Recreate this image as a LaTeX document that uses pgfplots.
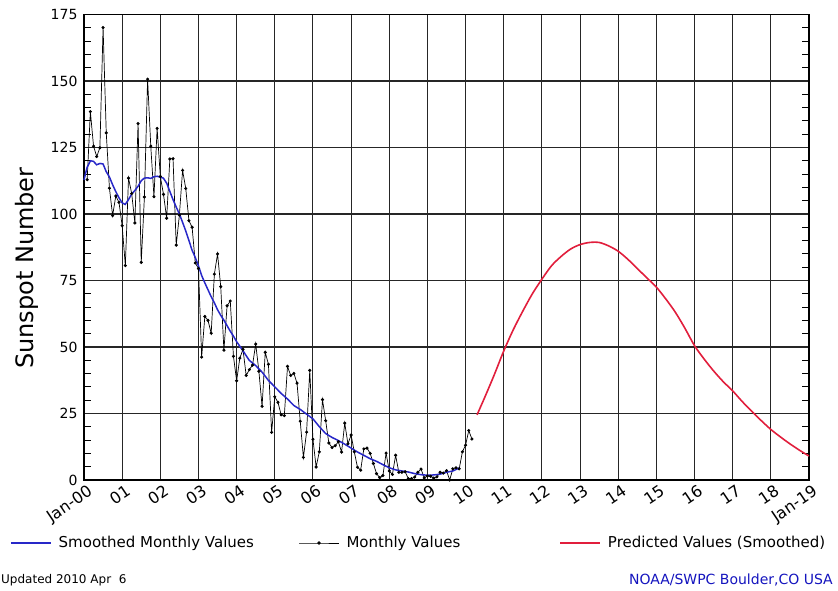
\documentclass[border=0pt]{standalone}
\usepackage{pgfplots}
\usepackage{pgfplotstable}
\pgfplotsset{compat=1.18}
\usepackage{fontspec}
\setmainfont{DejaVu Sans}
\definecolor{smblue}{RGB}{40,40,200}
\definecolor{prred}{RGB}{225,30,60}
\definecolor{noaablue}{RGB}{20,20,190}
\tikzset{xlab/.style={rotate=34, anchor=north east, inner sep=1pt, yshift=-4pt, xshift=1pt, font=\fontsize{16}{18}\selectfont}}

% Monthly values, m = months after Jan 2000
\pgfplotstableread{
m v
1 112.9
2 138.5
3 125.5
4 121.6
5 124.9
6 170.1
7 130.5
8 109.7
9 99.4
10 106.8
11 104.4
12 95.6
13 80.6
14 113.5
15 107.7
16 96.6
17 134.0
18 81.8
19 106.4
20 150.7
21 125.5
22 106.5
23 132.2
24 114.1
25 107.4
26 98.4
27 120.7
28 120.8
29 88.3
30 99.6
31 116.4
32 109.6
33 97.5
34 95.0
35 81.6
36 79.5
37 46.2
38 61.5
39 60.0
40 55.2
41 77.4
42 85.0
43 72.7
44 48.8
45 65.5
46 67.3
47 46.5
48 37.3
49 45.8
50 49.1
51 39.3
52 41.5
53 43.2
54 51.1
55 40.9
56 27.7
57 48.0
58 43.5
59 17.9
60 31.3
61 29.2
62 24.5
63 24.2
64 42.7
65 39.3
66 40.1
67 36.4
68 22.1
69 8.5
70 18.0
71 41.2
72 15.3
73 4.9
74 10.6
75 30.2
76 22.3
77 13.9
78 12.2
79 12.9
80 14.4
81 10.5
82 21.4
83 13.6
84 16.9
85 10.6
86 4.8
87 3.7
88 11.7
89 12.0
90 10.0
91 6.2
92 2.4
93 0.9
94 1.7
95 10.1
96 3.4
97 2.1
98 9.3
99 2.9
100 2.9
101 3.1
102 0.5
103 0.5
104 1.1
105 2.9
106 4.1
107 0.8
108 1.5
109 1.4
110 0.7
111 1.2
112 2.9
113 2.6
114 3.5
115 0.0
116 4.2
117 4.6
118 4.2
119 10.6
120 13.1
121 18.6
122 15.4
}\monthly

% Smoothed values, t = years after Jan 2000
\pgfplotstableread{
t v
0.00 112.8
0.08 117.5
0.17 120.0
0.25 119.8
0.33 118.5
0.42 119.0
0.50 118.8
0.58 116.0
0.67 113.8
0.75 111.0
0.83 108.5
0.92 106.0
1.00 104.2
1.08 103.6
1.17 105.5
1.25 107.5
1.33 108.8
1.42 110.5
1.50 112.5
1.58 113.5
1.67 113.6
1.75 113.4
1.83 114.0
1.92 114.2
2.00 113.8
2.08 113.5
2.17 111.5
2.25 108.5
2.33 105.5
2.42 102.5
2.50 100.0
2.58 97.0
2.67 93.5
2.75 90.0
2.83 86.5
2.92 83.5
3.00 80.5
3.08 77.0
3.17 74.0
3.25 71.5
3.33 69.0
3.42 66.5
3.50 64.0
3.58 62.0
3.67 60.0
3.75 58.0
3.83 56.0
3.92 54.0
4.00 52.0
4.17 48.5
4.33 45.0
4.50 43.0
4.67 40.5
4.83 37.5
5.00 35.0
5.17 32.5
5.33 30.5
5.50 28.0
5.67 26.5
5.83 24.8
6.00 23.0
6.17 20.0
6.33 17.5
6.50 16.0
6.67 14.8
6.83 13.5
7.00 12.0
7.17 10.5
7.33 9.3
7.50 8.0
7.67 7.0
7.83 5.8
8.00 4.6
8.17 3.8
8.33 3.4
8.50 3.0
8.67 2.4
8.83 2.0
9.00 1.8
9.17 1.9
9.33 2.2
9.50 2.9
9.67 3.4
9.83 4.5
}\smoothed

% Predicted values, t = years after Jan 2000
\pgfplotstableread{
t v
10.30 24.5
10.50 31.0
10.75 39.5
11.00 48.5
11.25 56.5
11.50 63.5
11.75 70.0
12.00 75.5
12.25 80.5
12.50 84.0
12.75 86.8
13.00 88.5
13.25 89.3
13.50 89.3
13.75 88.0
14.00 86.0
14.25 83.0
14.50 79.5
14.75 76.0
15.00 72.5
15.25 68.0
15.50 63.0
15.75 57.0
16.00 50.5
16.25 45.5
16.50 41.0
16.75 37.0
17.00 33.5
17.25 29.5
17.50 25.8
17.75 22.3
18.00 19.0
18.25 16.2
18.50 13.6
18.75 11.2
19.00 9.0
}\predicted

\begin{document}
\begin{tikzpicture}
\useasboundingbox (0pt,0pt) rectangle (838pt,590pt);
\begin{axis}[
  at={(84pt,110pt)}, anchor=south west,
  width=725pt, height=465.5pt, scale only axis,
  clip=false,
  xmin=0, xmax=19, ymin=0, ymax=175,
  xtick={0,1,...,19},
  xticklabels={},
  ytick={0,25,50,75,100,125,150,175},
  minor y tick num=4,
  grid=major,
  major grid style={draw=black!85, line width=1.1pt},
  axis line style={black, line width=1.3pt},
  tick align=inside,
  major tick length=0pt,
  minor tick length=7pt,
  minor tick style={black, line width=1pt},
  /pgf/number format/assume math mode=true,
  tick label style={font=\fontsize{14}{16}\selectfont},
  yticklabel style={xshift=-3pt},
  ylabel={Sunspot Number},
  ylabel style={at={(axis description cs:-0.0786,0.455)}, anchor=center, font=\fontsize{24}{28}\selectfont},
  legend columns=3,
  legend cell align=left,
  legend image code/.code={\draw[mark repeat=2,mark phase=2,#1] plot coordinates {(0pt,0pt) (20pt,0pt) (40pt,0pt)};},
  legend style={at={(axis description cs:-0.10207,-0.13534)}, anchor=west, draw=none, fill=none,
    inner sep=0pt, nodes={inner sep=0pt}, font=\fontsize{15}{18}\selectfont,
    /tikz/every odd column/.style={column sep=7pt}},
]
\addlegendimage{smblue, line width=1.5pt}
\addlegendentry{\makebox[240pt][l]{Smoothed Monthly Values}}
\addlegendimage{black, line width=0.8pt, mark=*, mark size=1.3pt}
\addlegendentry{\makebox[213pt][l]{Monthly Values}}
\addlegendimage{prred, line width=1.5pt}
\addlegendentry{Predicted Values (Smoothed)}

\addplot[black, line width=0.7pt, mark=*, mark size=1.2pt, forget plot]
  table[x expr={\thisrow{m}/12}, y=v] {\monthly};
\addplot[smblue, line width=1.5pt, forget plot] table[x=t, y=v] {\smoothed};
\addplot[prred, line width=1.6pt, smooth, forget plot] table[x=t, y=v] {\predicted};

\node[xlab] at (axis cs:0,0) {Jan-00};
\node[xlab] at (axis cs:1,0) {01};
\node[xlab] at (axis cs:2,0) {02};
\node[xlab] at (axis cs:3,0) {03};
\node[xlab] at (axis cs:4,0) {04};
\node[xlab] at (axis cs:5,0) {05};
\node[xlab] at (axis cs:6,0) {06};
\node[xlab] at (axis cs:7,0) {07};
\node[xlab] at (axis cs:8,0) {08};
\node[xlab] at (axis cs:9,0) {09};
\node[xlab] at (axis cs:10,0) {10};
\node[xlab] at (axis cs:11,0) {11};
\node[xlab] at (axis cs:12,0) {12};
\node[xlab] at (axis cs:13,0) {13};
\node[xlab] at (axis cs:14,0) {14};
\node[xlab] at (axis cs:15,0) {15};
\node[xlab] at (axis cs:16,0) {16};
\node[xlab] at (axis cs:17,0) {17};
\node[xlab] at (axis cs:18,0) {18};
\node[xlab] at (axis cs:19,0) {Jan-19};
\end{axis}
\node[anchor=west, inner sep=0pt, font=\fontsize{12}{14}\selectfont] at (1pt,10pt) {Updated 2010 Apr\ \ 6};
\node[anchor=east, inner sep=0pt, text=noaablue, font=\fontsize{14}{16}\selectfont] at (833pt,10pt) {NOAA/SWPC Boulder,CO USA};
\end{tikzpicture}
\end{document}
